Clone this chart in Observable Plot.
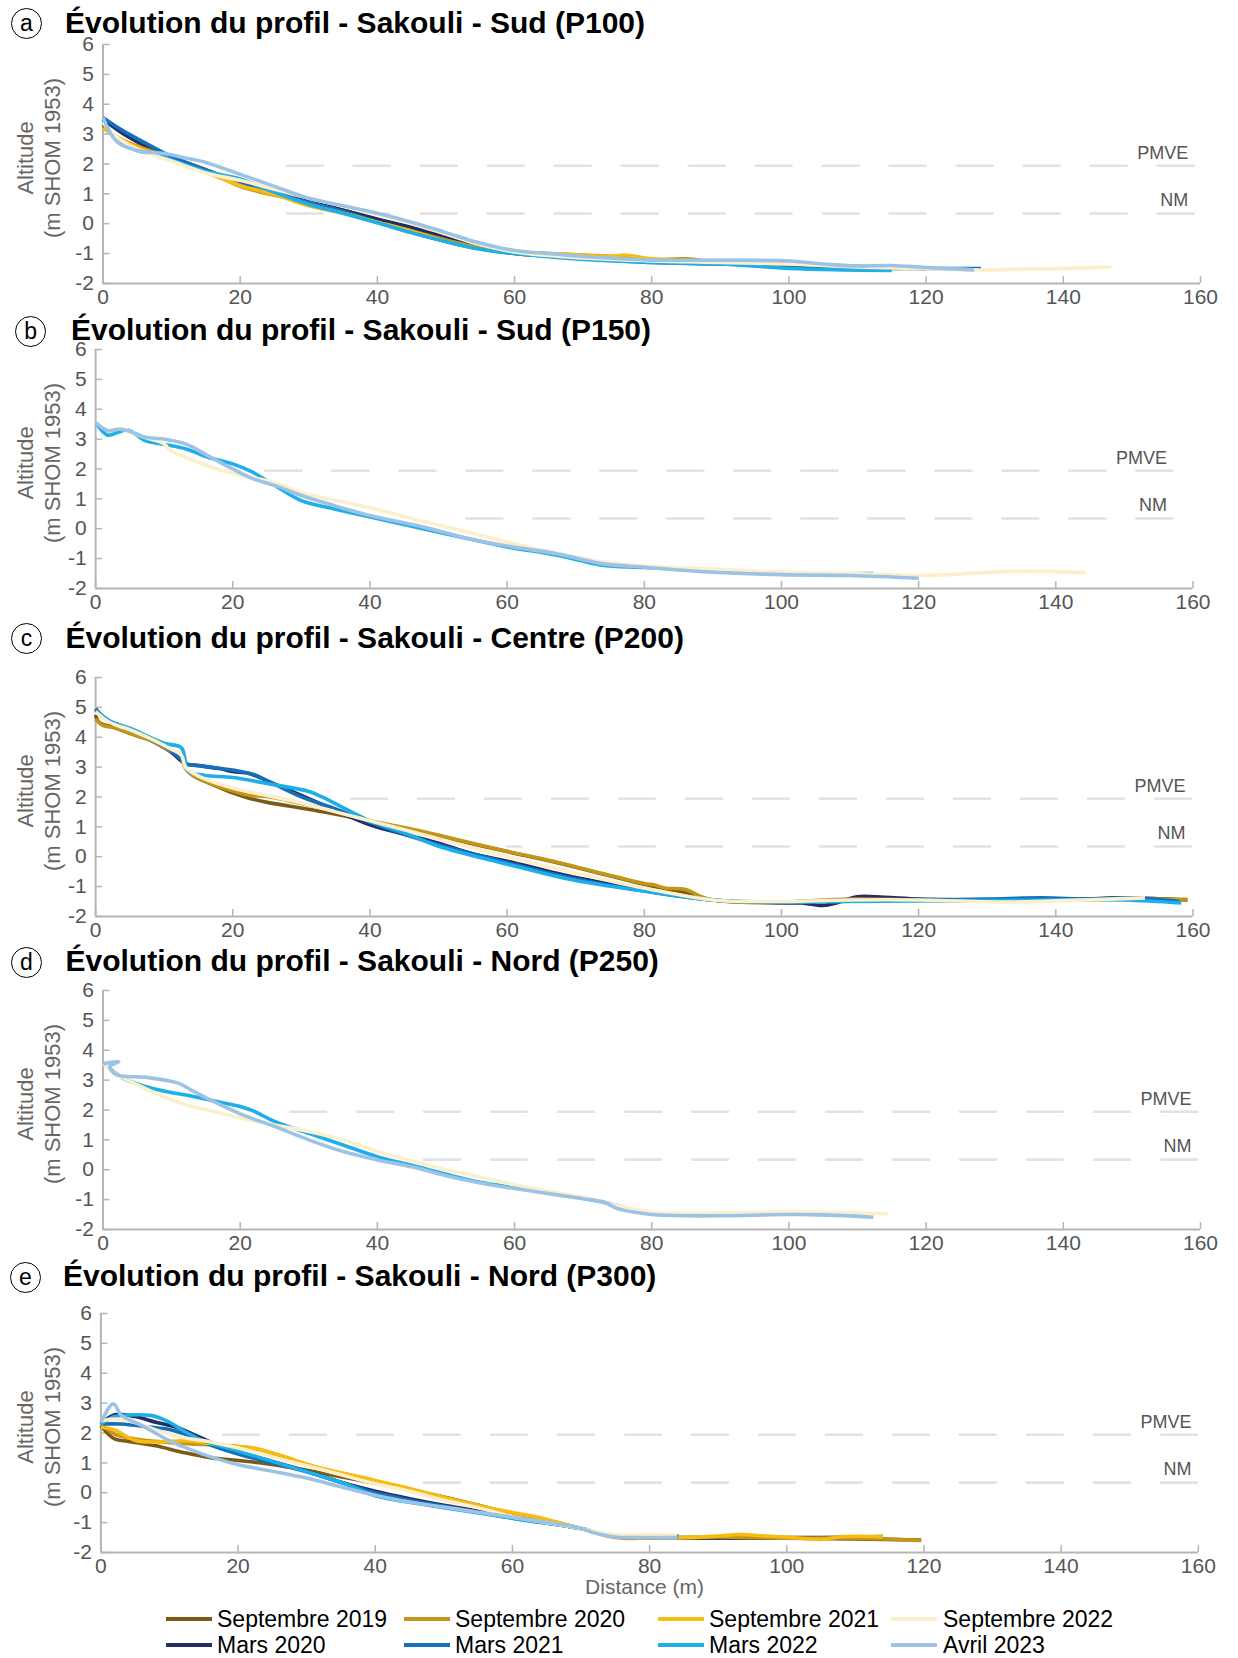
<!DOCTYPE html>
<html><head><meta charset="utf-8">
<script src="https://cdn.jsdelivr.net/npm/d3@7"></script>
<script src="https://cdn.jsdelivr.net/npm/@observablehq/plot@0.6"></script>
<style>
body{margin:0;background:#fff;width:1238px;height:1658px;position:relative;overflow:hidden;font-family:"Liberation Sans",Arial,Helvetica,sans-serif;}
.abs{position:absolute;}
.title{font-weight:bold;font-size:30px;line-height:30px;white-space:nowrap;color:#000;}
.badge{border:1.6px solid #000;border-radius:50%;width:31px;height:31px;box-sizing:border-box;display:flex;align-items:center;justify-content:center;font-size:23px;line-height:1;color:#000;}
.leg{font-size:23px;line-height:1;white-space:nowrap;color:#000;}
.sw{height:4px;width:46px;}
</style></head>
<body>
<div id="root"></div>
<script>
// ---------- series / colours ----------
const seriesNames = ["Septembre 2019","Mars 2020","Septembre 2020","Mars 2021","Septembre 2021","Mars 2022","Septembre 2022","Avril 2023"];
const seriesColors = ["#7a5a16","#232d66","#c3961a","#1570bc","#f7bc12","#1eaee8","#fcefcc","#9cc3e5"];
const legendRow1 = ["Septembre 2019","Septembre 2020","Septembre 2021","Septembre 2022"];
const legendRow2 = ["Mars 2020","Mars 2021","Mars 2022","Avril 2023"];

const xTicks = [0,20,40,60,80,100,120,140,160];
const yTicks = [-2,-1,0,1,2,3,4,5,6];
const levelNames = ["PMVE","NM"];
const levelValues = [1.94, 0.34];

const panelLetters = ["a","b","c","d","e"];
const panelTitles = [
  "Évolution du profil - Sakouli - Sud (P100)",
  "Évolution du profil - Sakouli - Sud (P150)",
  "Évolution du profil - Sakouli - Centre (P200)",
  "Évolution du profil - Sakouli - Nord (P250)",
  "Évolution du profil - Sakouli - Nord (P300)"
];
const pmveStart = [26, 24, 36, 25, 16];
const nmStart   = [26, 53, 60, 46, 47];
const levelEnd  = [159, 157, 159.7, 159.5, 159.8];

// ---------- P100 ----------
const p100_sep2019 = [[0,3.3],[2,2.85],[5,2.55],[10,2.15],[15,1.75],[20,1.3],[25,1.0],[30,0.7],[35,0.45],[40,0.15],[45,-0.15],[50,-0.45],[55,-0.75],[60,-1.0],[65,-1.08],[70,-1.12],[75,-1.15],[80,-1.2],[90,-1.27],[100,-1.38],[110,-1.45],[116,-1.5]];
const p100_mar2020 = [[0,3.5],[3,3.0],[7,2.5],[10,2.2],[15,1.8],[20,1.35],[25,1.05],[30,0.75],[35,0.45],[40,0.15],[45,-0.12],[50,-0.42],[55,-0.75],[60,-0.97],[70,-1.12],[80,-1.25],[90,-1.3],[100,-1.4],[110,-1.45],[120,-1.5]];
const p100_sep2020 = [[0,3.35],[2,2.9],[5,2.6],[10,2.2],[15,1.8],[20,1.25],[25,0.95],[30,0.7],[35,0.4],[40,0.05],[45,-0.25],[50,-0.55],[55,-0.8],[60,-0.95],[65,-1.0],[70,-1.05],[75,-1.1],[80,-1.2],[85,-1.18],[90,-1.3],[100,-1.35],[110,-1.42],[118,-1.5]];
const p100_mar2021 = [[0,3.55],[3,3.1],[7,2.6],[10,2.25],[15,1.8],[20,1.4],[25,1.05],[30,0.7],[35,0.4],[40,0.05],[45,-0.3],[50,-0.6],[55,-0.85],[60,-1.0],[70,-1.15],[80,-1.3],[90,-1.35],[100,-1.45],[110,-1.5],[120,-1.5],[128,-1.5]];
const p100_sep2021 = [[0,3.2],[2,2.9],[5,2.55],[10,2.12],[15,1.72],[20,1.28],[25,0.98],[30,0.6],[35,0.35],[40,0.05],[45,-0.25],[50,-0.6],[55,-0.85],[60,-0.95],[65,-1.0],[70,-1.05],[74,-1.1],[76,-1.05],[80,-1.18],[90,-1.3],[100,-1.35],[110,-1.45],[118,-1.5]];
const p100_mar2022 = [[0,3.5],[2,2.8],[5,2.45],[8,2.3],[11,2.05],[15,1.75],[20,1.5],[25,1.05],[30,0.65],[35,0.35],[40,0.03],[45,-0.3],[50,-0.6],[55,-0.85],[60,-1.0],[70,-1.2],[80,-1.3],[90,-1.35],[100,-1.5],[108,-1.55],[115,-1.57]];
const p100_sep2022 = [[0,3.4],[2,2.9],[5,2.5],[10,2.1],[15,1.7],[20,1.45],[25,1.15],[30,0.85],[35,0.6],[40,0.3],[45,0.0],[50,-0.35],[55,-0.7],[60,-0.95],[70,-1.15],[80,-1.25],[90,-1.3],[100,-1.35],[110,-1.45],[120,-1.5],[128,-1.55],[135,-1.52],[140,-1.5],[147,-1.45]];
const p100_avr2023 = [[0,3.55],[2,2.75],[5,2.45],[9,2.35],[12,2.2],[15,2.05],[20,1.65],[25,1.25],[30,0.85],[35,0.6],[40,0.35],[45,0.05],[50,-0.3],[55,-0.65],[60,-0.9],[65,-1.0],[70,-1.1],[80,-1.22],[90,-1.22],[100,-1.25],[105,-1.35],[110,-1.42],[115,-1.4],[120,-1.47],[127,-1.55]];

// ---------- P150 ----------
const p150_mar2022 = [[0,3.55],[1.8,3.13],[3.4,3.24],[4.7,3.31],[6,3.13],[7.3,2.94],[9.9,2.83],[13.2,2.67],[16.4,2.39],[20,2.17],[22.9,1.89],[26.2,1.44],[30,0.94],[34.7,0.67],[40,0.39],[47.7,0.0],[54.2,-0.33],[60,-0.61],[67.3,-0.89],[70.5,-1.06],[73.8,-1.22],[80,-1.3],[90,-1.41],[100,-1.5],[113.4,-1.5]];
const p150_sep2022 = [[0,3.55],[1.8,3.3],[4,3.35],[6,3.15],[8,3.0],[9.9,2.85],[11,2.6],[13,2.4],[16.4,2.1],[20,1.85],[23,1.7],[26,1.55],[30,1.2],[35,0.95],[40,0.7],[47.7,0.25],[54,-0.1],[60,-0.45],[67,-0.8],[73.8,-1.1],[80,-1.25],[90,-1.35],[100,-1.45],[110,-1.5],[120,-1.57],[125,-1.53],[130,-1.46],[135,-1.43],[140,-1.44],[144.4,-1.48]];
const p150_avr2023 = [[0,3.55],[1.8,3.28],[3.4,3.33],[4.7,3.28],[6,3.17],[7.3,3.06],[9.9,3.0],[13.2,2.83],[16.4,2.44],[20,2.0],[23,1.67],[26.2,1.44],[30,1.11],[34.7,0.78],[40,0.44],[47.7,0.06],[54,-0.31],[60,-0.58],[67,-0.83],[73.8,-1.17],[80,-1.29],[90,-1.46],[100,-1.54],[110,-1.57],[120,-1.66]];

// ---------- P200 ----------
const p200_sep2019 = [[0,4.75],[0.5,4.5],[3,4.3],[6,4.05],[8,3.9],[10,3.65],[12.3,3.35],[13.1,3.0],[14,2.75],[17.3,2.39],[20.3,2.11],[22.5,1.95],[25.2,1.81],[28.4,1.69],[31.7,1.56],[35.6,1.4],[40.2,1.18],[44.8,0.96],[51.3,0.62],[60,0.17],[67.6,-0.22],[74.2,-0.6],[80,-0.93],[83,-1.08],[86,-1.2],[90,-1.45],[95,-1.52],[100,-1.52],[110,-1.45],[120,-1.45],[130,-1.48],[140,-1.45],[150,-1.4],[159.2,-1.45]];
const p200_mar2020 = [[0,4.95],[2,4.5],[5,4.2],[8,3.9],[11,3.5],[12.5,3.2],[13.3,3.1],[15,3.05],[18,2.95],[20,2.85],[22.5,2.78],[25,2.54],[28,2.25],[31,1.95],[35,1.55],[40,1.07],[45,0.75],[50,0.45],[55,0.1],[60,-0.15],[70,-0.7],[80,-1.1],[90,-1.45],[100,-1.55],[103,-1.55],[106,-1.63],[108,-1.55],[111,-1.34],[115,-1.36],[120,-1.42],[130,-1.45],[140,-1.46],[150,-1.38],[158,-1.45]];
const p200_sep2020 = [[0,4.6],[1,4.4],[3,4.3],[6,4.05],[8,3.9],[10,3.65],[12.3,3.35],[13.1,2.95],[14,2.75],[17.3,2.4],[20,2.2],[22.5,2.05],[25,2.02],[28,1.88],[32,1.68],[36,1.45],[40,1.2],[45,0.98],[51.3,0.65],[60,0.18],[67.6,-0.2],[74.2,-0.58],[80,-0.9],[81.5,-0.95],[83,-1.05],[86,-1.1],[89,-1.4],[95,-1.53],[100,-1.53],[110,-1.42],[120,-1.45],[128,-1.48],[140,-1.45],[150,-1.42],[159.2,-1.43]];
const p200_mar2021 = [[0,4.9],[2,4.55],[5,4.25],[8,3.95],[11,3.55],[12.5,3.25],[13.3,3.1],[15,3.05],[20,2.9],[23,2.75],[25,2.55],[30,2.0],[35,1.6],[40,1.15],[45,0.75],[50,0.4],[60,-0.2],[70,-0.75],[80,-1.15],[90,-1.45],[100,-1.52],[110,-1.45],[120,-1.45],[130,-1.42],[138,-1.38],[145,-1.42],[150,-1.38],[158,-1.5]];
const p200_mar2022 = [[0,4.9],[2,4.55],[5,4.3],[10,3.8],[12.5,3.65],[13,3.3],[13.5,2.85],[16,2.72],[20,2.65],[25,2.45],[31,2.19],[33,2.0],[36,1.65],[40,1.2],[45,0.8],[50,0.35],[60,-0.25],[70,-0.8],[80,-1.15],[90,-1.45],[100,-1.52],[110,-1.5],[120,-1.48],[130,-1.47],[140,-1.45],[150,-1.45],[158.3,-1.55]];
const p200_sep2022 = [[0,4.85],[2,4.5],[5,4.25],[8,3.95],[11,3.6],[12.5,3.4],[13.1,3.0],[15,2.7],[20,2.3],[25,2.05],[30,1.8],[35,1.5],[40,1.2],[50,0.6],[60,0.0],[70,-0.55],[80,-1.05],[90,-1.45],[100,-1.5],[110,-1.45],[120,-1.45],[133,-1.52],[140,-1.48],[153,-1.38]];

// ---------- P250 ----------
const p250_mar2022 = [[0,3.55],[1.5,3.3],[3,3.06],[6,2.8],[9,2.63],[13,2.46],[16,2.31],[20,2.12],[22,1.96],[25,1.62],[30,1.22],[35,0.83],[40,0.44],[45,0.15],[50,-0.15],[55,-0.42],[60,-0.6],[65,-0.78],[70,-0.95],[75,-1.2],[78,-1.4],[80,-1.48],[90,-1.5],[100,-1.48],[110,-1.52]];
const p250_sep2022 = [[0,3.55],[2,3.2],[5,2.85],[8,2.52],[12,2.18],[16,1.96],[20,1.73],[25,1.5],[30,1.28],[35,1.0],[40,0.61],[45,0.3],[50,0.0],[55,-0.25],[60,-0.5],[65,-0.72],[70,-0.92],[75,-1.2],[80,-1.42],[90,-1.45],[100,-1.42],[110,-1.45],[114.4,-1.48]];
const p250_avr2023 = [[0,3.55],[2.3,3.62],[1.0,3.45],[1.8,3.2],[3,3.13],[6,3.1],[9,3.0],[11,2.9],[13,2.65],[16,2.3],[20,1.87],[25,1.45],[30,1.0],[35,0.61],[40,0.33],[45,0.1],[50,-0.2],[55,-0.44],[60,-0.63],[65,-0.8],[70,-0.97],[73,-1.08],[75,-1.3],[78,-1.44],[80,-1.5],[85,-1.54],[90,-1.54],[100,-1.5],[105,-1.51],[110,-1.56],[112.3,-1.59]];

// ---------- P300 ----------
const p300_sep2019 = [[0,2.25],[2,1.8],[4,1.72],[8,1.57],[12,1.35],[16,1.17],[20,1.08],[25,0.95],[30,0.75],[35,0.54],[40,0.32],[45,0.09],[50,-0.14],[55,-0.42],[60,-0.7],[65,-0.92],[70,-1.2],[75,-1.45],[80,-1.5],[90,-1.52],[100,-1.52],[110,-1.55],[119.6,-1.58]];
const p300_mar2020 = [[0,2.3],[2,2.61],[5,2.55],[8,2.36],[11,2.19],[14,1.9],[17,1.6],[20,1.34],[25,1.05],[30,0.72],[35,0.35],[40,0.05],[45,-0.2],[50,-0.42],[60,-0.8],[70,-1.2],[75,-1.45],[85,-1.5],[95,-1.5],[105,-1.5],[114,-1.47]];
const p300_sep2020 = [[0,2.3],[2,1.96],[5,1.8],[8,1.72],[12,1.65],[16,1.6],[20,1.55],[23,1.45],[25,1.32],[30,0.95],[35,0.65],[40,0.37],[45,0.12],[50,-0.15],[55,-0.42],[60,-0.7],[65,-0.92],[70,-1.2],[75,-1.5],[80,-1.52],[90,-1.48],[100,-1.52],[110,-1.52],[119.6,-1.6]];
const p300_mar2021 = [[0,2.3],[3,2.3],[7,2.2],[10,2.12],[13,1.9],[16,1.6],[20,1.3],[25,1.0],[30,0.7],[35,0.35],[40,0.0],[45,-0.25],[50,-0.45],[60,-0.85],[70,-1.2],[75,-1.45],[80,-1.45],[84.2,-1.45]];
const p300_sep2021 = [[0,2.2],[2,2.1],[5,1.75],[8,1.7],[12.7,1.74],[18,1.57],[21.9,1.51],[25.8,1.28],[31,0.89],[37.6,0.54],[44,0.2],[50.6,-0.19],[57,-0.53],[63.7,-0.82],[70.2,-1.21],[75,-1.45],[80,-1.48],[85,-1.5],[90,-1.45],[93,-1.4],[97,-1.45],[100,-1.48],[105,-1.56],[108,-1.47],[114,-1.47]];
const p300_mar2022 = [[0,2.3],[2,2.55],[4,2.6],[7.2,2.59],[8,2.55],[10,2.36],[12,2.08],[15,1.74],[20,1.4],[25,1.05],[30,0.7],[35,0.35],[40,-0.1],[45,-0.32],[50,-0.5],[60,-0.85],[70,-1.2],[75,-1.45],[80,-1.45],[84.2,-1.48]];
const p300_sep2022 = [[0,2.4],[2,2.47],[5,2.35],[8,2.1],[12,1.85],[16,1.7],[20,1.5],[25,1.2],[30,0.9],[35,0.6],[40,0.3],[45,0.05],[50,-0.25],[55,-0.5],[60,-0.8],[65,-1.0],[70,-1.2],[75,-1.4],[80,-1.4],[84,-1.42]];
const p300_avr2023 = [[0,2.36],[1.8,2.98],[3,2.59],[6,2.25],[10,1.74],[13,1.45],[16,1.2],[20,0.94],[25,0.72],[30,0.49],[35,0.2],[40,-0.08],[45,-0.31],[50,-0.48],[55,-0.65],[60,-0.82],[65,-0.99],[70,-1.19],[72,-1.35],[75,-1.48],[80,-1.5],[84,-1.5]];

// ---------- assemble (series in chronological order) ----------
const panelSeries = [
  [["Septembre 2019",p100_sep2019],["Mars 2020",p100_mar2020],["Septembre 2020",p100_sep2020],["Mars 2021",p100_mar2021],["Septembre 2021",p100_sep2021],["Mars 2022",p100_mar2022],["Septembre 2022",p100_sep2022],["Avril 2023",p100_avr2023]],
  [["Mars 2022",p150_mar2022],["Septembre 2022",p150_sep2022],["Avril 2023",p150_avr2023]],
  [["Septembre 2019",p200_sep2019],["Mars 2020",p200_mar2020],["Septembre 2020",p200_sep2020],["Mars 2021",p200_mar2021],["Mars 2022",p200_mar2022],["Septembre 2022",p200_sep2022]],
  [["Mars 2022",p250_mar2022],["Septembre 2022",p250_sep2022],["Avril 2023",p250_avr2023]],
  [["Septembre 2019",p300_sep2019],["Mars 2020",p300_mar2020],["Septembre 2020",p300_sep2020],["Mars 2021",p300_mar2021],["Septembre 2021",p300_sep2021],["Mars 2022",p300_mar2022],["Septembre 2022",p300_sep2022],["Avril 2023",p300_avr2023]]
];

// layout (pixels)
const layout = [
  {left:102.5, right:1200,   top:44.4,  bottom:283.3,  titleX:65,  titleBase:33,    badgeX:26.4, badgeY:23.3},
  {left:95.1,  right:1192.5, top:348.9, bottom:587.8,  titleX:71,  titleBase:340.5, badgeX:30.7, badgeY:331},
  {left:95.1,  right:1192.5, top:676.6, bottom:915.5,  titleX:65.5,titleBase:648,   badgeX:26.4, badgeY:638.5},
  {left:102.5, right:1200,   top:989.5, bottom:1228.5, titleX:65.5,titleBase:971.6, badgeX:26.4, badgeY:962},
  {left:100.4, right:1197.8, top:1313,  bottom:1552,   titleX:63,  titleBase:1286.6,badgeX:25.4, badgeY:1277}
];

const root = document.getElementById("root");
const FONT = "'Liberation Sans', Arial, Helvetica, sans-serif";
const axisGray = "#b5b5b5";
const fmt = d => String(d);

panelSeries.forEach((ser, i) => {
  const L = layout[i];
  const mt = 14, mb = i === 4 ? 60 : 32;
  const plotW = L.right - L.left, plotH = L.bottom - L.top;
  const data = ser.flatMap(([name, pts]) => pts.map(([x, y]) => ({name, x, y})));
  const lv = [
    {name: levelNames[0], x: levelEnd[i], y: levelValues[0]}, {name: levelNames[0], x: pmveStart[i], y: levelValues[0]},
    {name: levelNames[1], x: levelEnd[i], y: levelValues[1]}, {name: levelNames[1], x: nmStart[i], y: levelValues[1]}
  ];
  const lvLabels = levelNames.map((n, k) => ({name: n, x: levelEnd[i] - 0.8, y: levelValues[k]}));
  const marks = [
    Plot.line(lv, {x: "x", y: "y", z: "name", stroke: "#e2e2e2", strokeWidth: 2.6, strokeDasharray: "36 31"}),
    Plot.text(lvLabels, {x: "x", y: "y", text: "name", textAnchor: "end", dy: -13, fontSize: 18, fill: "#555"}),
    Plot.ruleY([-2], {stroke: axisGray, strokeWidth: 2}),
    Plot.ruleX([0], {stroke: axisGray, strokeWidth: 2}),
    Plot.tickX(xTicks, {x: d => d, insetTop: plotH - 7, stroke: axisGray, strokeWidth: 1.5}),
    Plot.tickY(yTicks, {y: d => d, insetRight: plotW - 7, stroke: axisGray, strokeWidth: 1.5}),
    Plot.axisX(xTicks, {tickSize: 0, tickPadding: 6, fontSize: 21, label: null, fill: "#555", tickFormat: fmt}),
    Plot.axisY(yTicks, {tickSize: 0, tickPadding: 9, fontSize: 21, label: null, fill: "#555", tickFormat: fmt}),
    Plot.text(["Altitude"], {text: d => d, frameAnchor: "left", textAnchor: "middle", lineAnchor: "middle", rotate: -90, dx: 25 - L.left, dy: -6, fontSize: 22, fill: "#666"}),
    Plot.text(["(m SHOM 1953)"], {text: d => d, frameAnchor: "left", textAnchor: "middle", lineAnchor: "middle", rotate: -90, dx: 52 - L.left, dy: -6, fontSize: 22, fill: "#666"}),
    Plot.line(data, {x: "x", y: "y", z: "name", stroke: "name", strokeWidth: 3.6, curve: "catmull-rom", strokeLinecap: "butt"})
  ];
  if (i === 4) {
    marks.push(Plot.text(["Distance (m)"], {text: d => d, frameAnchor: "bottom", dy: 41, dx: -5, fontSize: 21, fill: "#666"}));
  }
  const chart = Plot.plot({
    width: 1238, height: plotH + mt + mb,
    marginLeft: L.left, marginRight: 1238 - L.right, marginTop: mt, marginBottom: mb,
    x: {domain: [0, 160]},
    y: {domain: [-2, 6]},
    color: {domain: seriesNames, range: seriesColors},
    style: {fontFamily: FONT, color: "#555", background: "transparent", overflow: "visible"},
    marks
  });
  chart.style.position = "absolute";
  chart.style.left = "0px";
  chart.style.top = (L.top - mt) + "px";
  chart.style.maxWidth = "none";
  root.appendChild(chart);

  // title + badge
  const fs = 30;
  const t = document.createElement("div");
  t.className = "abs title";
  t.textContent = panelTitles[i];
  t.style.left = L.titleX + "px";
  t.style.top = (L.titleBase - 0.8465 * fs) + "px";
  root.appendChild(t);
  const b = document.createElement("div");
  b.className = "abs badge";
  b.textContent = panelLetters[i];
  b.style.left = (L.badgeX - 15.5) + "px";
  b.style.top = (L.badgeY - 15.5) + "px";
  root.appendChild(b);
});

// legend
const swX = [166, 404, 658, 891], txX = [217, 455, 709, 943], rowY = [1619, 1645];
[legendRow1, legendRow2].forEach((row, r) => {
  row.forEach((name, c) => {
    const sw = document.createElement("div");
    sw.className = "abs sw";
    sw.style.left = swX[c] + "px";
    sw.style.top = (rowY[r] - 2) + "px";
    sw.style.background = seriesColors[seriesNames.indexOf(name)];
    root.appendChild(sw);
    const tx = document.createElement("div");
    tx.className = "abs leg";
    tx.textContent = name;
    tx.style.left = txX[c] + "px";
    tx.style.top = (rowY[r] - 11) + "px";
    root.appendChild(tx);
  });
});
</script>
</body></html>
